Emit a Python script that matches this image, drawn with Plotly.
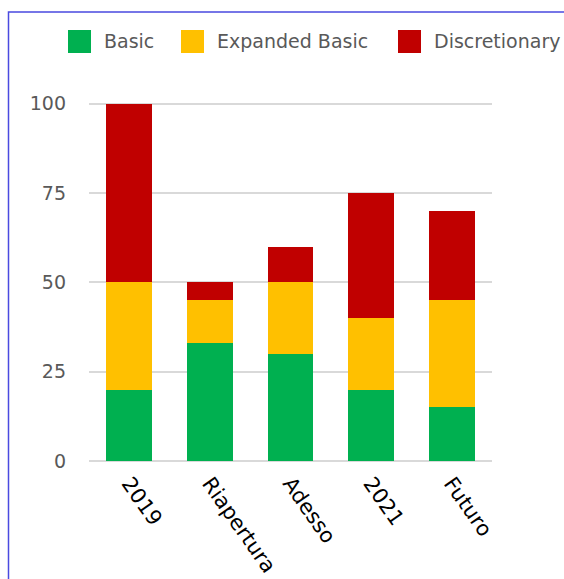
import plotly.graph_objects as go

categories = ["2019", "Riapertura", "Adesso", "2021", "Futuro"]
basic = [20, 33, 30, 20, 15]
expanded_basic = [30, 12, 20, 20, 30]
discretionary = [50, 5, 10, 35, 25]
y_ticks = [0, 25, 50, 75, 100]

series = [
    ("Basic", basic, "#00B050"),
    ("Expanded Basic", expanded_basic, "#FFC000"),
    ("Discretionary", discretionary, "#C00000"),
]

W, H = 564, 579
L, R, T, B = 89, 72, 100, 118
pw, ph = W - L - R, H - T - B

def px_x(p):
    return (p - L) / pw

def px_y(p):
    return (H - B - p) / ph

FONT = "DejaVu Sans"

fig = go.Figure()
for name, vals, col in series:
    fig.add_trace(go.Bar(x=categories, y=vals, name=name, marker_color=col,
                         marker_line_width=0, showlegend=False))

shapes = []
annotations = []
# manual legend
legend_items = [(68, "Basic"), (181, "Expanded Basic"), (398, "Discretionary")]
for (x0, label), (_, _, col) in zip(legend_items, series):
    shapes.append(dict(type="rect", xref="paper", yref="paper",
                       x0=px_x(x0), x1=px_x(x0 + 23), y0=px_y(30), y1=px_y(53),
                       fillcolor=col, line=dict(width=0)))
    annotations.append(dict(xref="paper", yref="paper", x=px_x(x0 + 34), y=px_y(41),
                            text=label, showarrow=False, xanchor="left", yanchor="middle",
                            font=dict(family=FONT, size=19, color="#595959")))
# frame border
shapes.append(dict(type="rect", xref="paper", yref="paper",
                   x0=px_x(8.5), x1=px_x(700), y0=px_y(700), y1=px_y(12),
                   fillcolor="rgba(0,0,0,0)", line=dict(color="#4a4ae0", width=1.5)))

fig.update_layout(
    width=W, height=H,
    margin=dict(l=L, r=R, t=T, b=B, autoexpand=False),
    barmode="stack",
    bargap=0.43,
    plot_bgcolor="white",
    paper_bgcolor="white",
    shapes=shapes,
    annotations=annotations,
    xaxis=dict(tickangle=55, tickfont=dict(family=FONT, size=21, color="black"),
               showgrid=False, showline=False, ticks="", automargin=False,
               ticklabelstandoff=5),
    yaxis=dict(range=[0, 101], tickvals=y_ticks, showgrid=True, gridcolor="#d9d9d9",
               gridwidth=1.5, zeroline=True, zerolinecolor="#d9d9d9", zerolinewidth=1.5,
               tickfont=dict(family=FONT, size=19, color="#595959"),
               ticklabelstandoff=22, showline=False, automargin=False),
)

fig.write_html("out.html")
